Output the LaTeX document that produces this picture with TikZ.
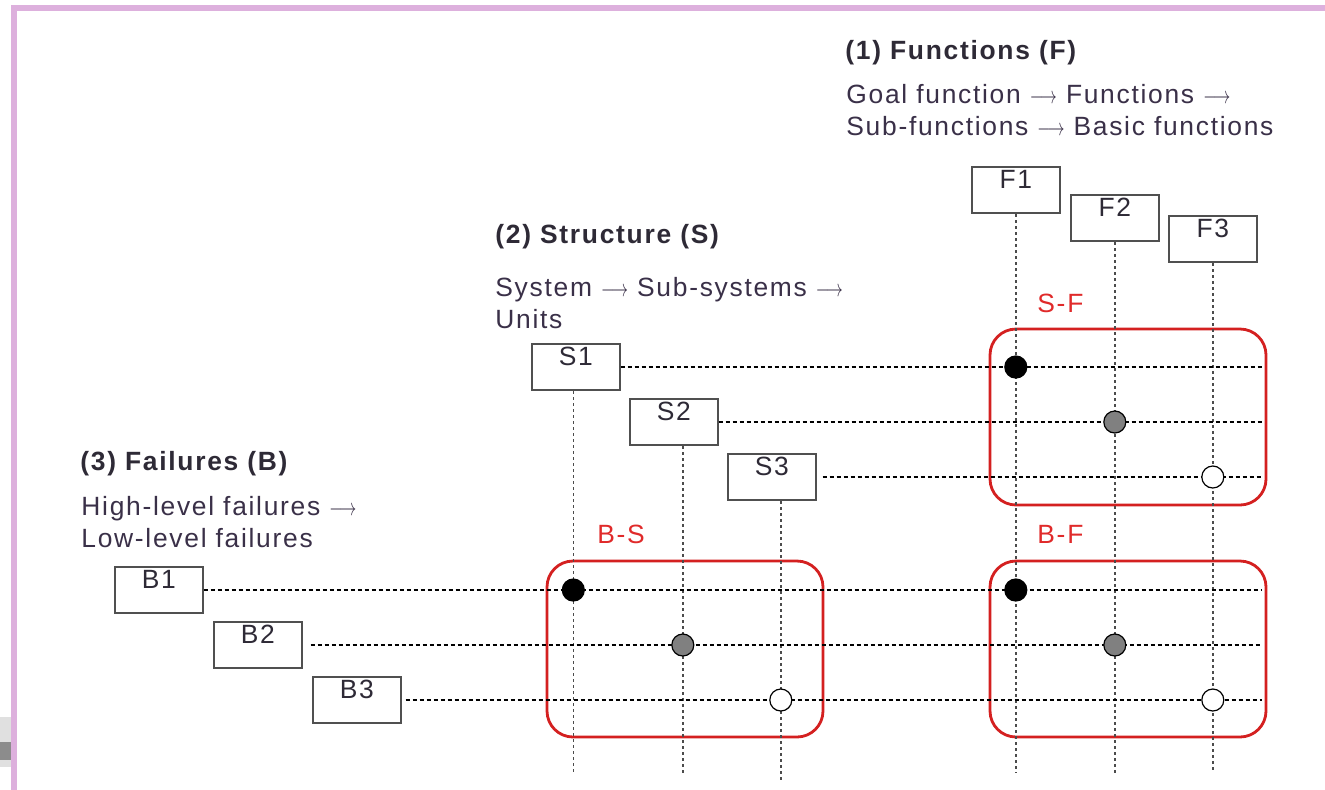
\documentclass[tikz,border=0pt]{standalone}
\usepackage{fontspec}
\setmainfont{Liberation Sans}[LetterSpace=6.5]
\usetikzlibrary{calc}
\definecolor{framepink}{HTML}{DDB0DD}
\definecolor{txtdark}{HTML}{2E2A36}
\definecolor{txtbody}{HTML}{3A3048}
\definecolor{boxgray}{HTML}{505050}
\definecolor{redbox}{HTML}{D42020}
\definecolor{redtxt}{HTML}{E02A2A}
\definecolor{dotgray}{HTML}{808080}
\newcommand{\arr}{ \scalebox{0.7}[1]{$\longrightarrow$} }
\begin{document}
\begin{tikzpicture}[x=0.5pt,y=-0.5pt,
  every node/.style={font=\fontsize{13.2}{15}\selectfont},
  itembox/.style={draw=boxgray,line width=0.8pt,fill=white,minimum width=44pt,
    inner xsep=0pt,inner ysep=1.2pt,text height=9.8pt,text depth=11pt,anchor=north west,text=txtdark},
  hline/.style={line width=0.7pt,dash pattern=on 2pt off 1.5pt,black},
  vline/.style={line width=0.7pt,dash pattern=on 1.5pt off 1.5pt,black!70},
  region/.style={draw=redbox,line width=1.4pt,rounded corners=13pt},
  title/.style={anchor=base west,inner sep=0pt,text=txtdark,font=\fontsize{13.2}{15}\selectfont\bfseries},
  body/.style={anchor=base west,inner sep=0pt,text=txtbody},
  redlabel/.style={anchor=base west,inner sep=0pt,text=redtxt},
  dot/.style={circle,draw=black,line width=0.6pt,minimum size=11pt,inner sep=0pt}]
\useasboundingbox (0,0) rectangle (1325,789);
\fill[white] (0,0) rectangle (1325,789);
% frame
\draw[framepink,line width=3pt] (13.5,800) -- (13.5,7.5) -- (1340,7.5);
% small grey artefact at bottom left
\fill[black!12] (0,717) rectangle (11,767);
\fill[black!45] (0,742) rectangle (11,760);

% texts
\node[title] (tF) at (845,59) {(1) Functions (F)};
\node[body] (tF1) at (846,103) {Goal function\arr Functions\arr};
\node[body] (tF2) at (846,135) {Sub-functions\arr Basic functions};
\node[title] (tS) at (495,243) {(2) Structure (S)};
\node[body] (tS1) at (495,296) {System\arr Sub-systems\arr};
\node[body] (tS2) at (495,328) {Units};
\node[title] (tB) at (80,470) {(3) Failures (B)};
\node[body] (tB1) at (81,515) {High-level failures\arr};
\node[body] (tB2) at (81,547) {Low-level failures};

\node[redlabel] (lSF) at (1037,312) {S-F};
\node[redlabel] (lBS) at (597,543) {B-S};
\node[redlabel] (lBF) at (1037,543) {B-F};

% red regions
\draw[region] (990,329) rectangle (1266,505);
\draw[region] (547,561) rectangle (823,737);
\draw[region] (990,561) rectangle (1266,737);

% boxes
\node[itembox] (F1) at (971,166) {F1};
\node[itembox] (F2) at (1070,194) {F2};
\node[itembox] (F3) at (1168,215) {F3};
\node[itembox] (S1) at (531,343) {S1};
\node[itembox] (S2) at (629,398) {S2};
\node[itembox] (S3) at (727,453) {S3};
\node[itembox] (B1) at (114,566) {B1};
\node[itembox] (B2) at (213,621) {B2};
\node[itembox] (B3) at (312,676) {B3};

% vertical line tops (on box bottoms)
\coordinate (F1t) at (F1.south);
\coordinate (F2t) at (F2.south);
\coordinate (F3t) at (F3.south);
\coordinate (S1t) at ($(S1.south)+(-2.5,0)$);
\coordinate (S2t) at ($(S2.south)+(9,0)$);
\coordinate (S3t) at ($(S3.south)+(9,0)$);
% line ends
\coordinate (F1e) at (F1t |- 0,773);
\coordinate (F2e) at (F2t |- 0,773);
\coordinate (F3e) at (F3t |- 0,773);
\coordinate (S1e) at (S1t |- 0,773);
\coordinate (S2e) at (S2t |- 0,773);
\coordinate (S3e) at (S3t |- 0,781);
\coordinate (S1r) at (1262,0 |- S1.east);
\coordinate (S2r) at (1262,0 |- S2.east);
\coordinate (S3r) at (1262,0 |- S3.east);
\coordinate (B1r) at (1262,0 |- B1.east);
\coordinate (B2r) at (1262,0 |- B2.east);
\coordinate (B3r) at (1262,0 |- B3.east);

% vertical lines
\foreach \n in {F1,F2,F3,S1,S2,S3} \draw[vline] (\n t) -- (\n e);
% horizontal lines
\draw[hline] (S1.east) -- (S1r);
\draw[hline] (S2.east) -- (S2r);
\draw[hline] ($(S3.east)+(6,0)$) -- (S3r);
\draw[hline] (B1.east) -- (B1r);
\draw[hline] ($(B2.east)+(8,0)$) -- (B2r);
\draw[hline] ($(B3.east)+(4,0)$) -- (B3r);

% dots
\node[dot,fill=black] (dSF1) at (F1t |- S1.east) {};
\node[dot,fill=dotgray] (dSF2) at (F2t |- S2.east) {};
\node[dot,fill=white] (dSF3) at (F3t |- S3.east) {};
\node[dot,fill=black] (dBS1) at (S1t |- B1.east) {};
\node[dot,fill=dotgray] (dBS2) at (S2t |- B2.east) {};
\node[dot,fill=white] (dBS3) at (S3t |- B3.east) {};
\node[dot,fill=black] (dBF1) at (F1t |- B1.east) {};
\node[dot,fill=dotgray] (dBF2) at (F2t |- B2.east) {};
\node[dot,fill=white] (dBF3) at (F3t |- B3.east) {};
\end{tikzpicture}
\end{document}
